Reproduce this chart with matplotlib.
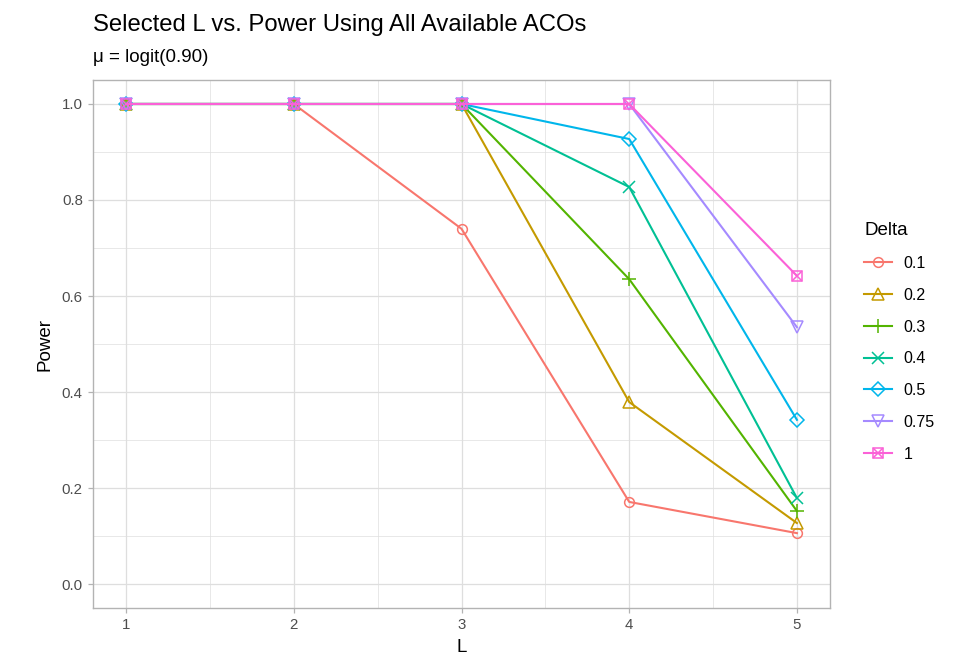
import matplotlib
matplotlib.use("Agg")
import matplotlib.pyplot as plt
from matplotlib.lines import Line2D
from matplotlib.legend_handler import HandlerTuple

plt.rcParams['font.family'] = ['Liberation Sans', 'DejaVu Sans']

L = [1, 2, 3, 4, 5]
deltas = ["0.1", "0.2", "0.3", "0.4", "0.5", "0.75", "1"]
power = {
    "0.1":  [1.0, 1.0, 0.740, 0.171, 0.106],
    "0.2":  [1.0, 1.0, 1.0, 0.379, 0.127],
    "0.3":  [1.0, 1.0, 1.0, 0.635, 0.152],
    "0.4":  [1.0, 1.0, 1.0, 0.827, 0.179],
    "0.5":  [1.0, 1.0, 1.0, 0.927, 0.342],
    "0.75": [1.0, 1.0, 1.0, 1.0, 0.535],
    "1":    [1.0, 1.0, 1.0, 1.0, 0.642],
}
colors = ["#F8766D", "#C49A00", "#53B400", "#00C094", "#00B6EB", "#A58AFF", "#FB61D7"]
markers = ["o", "^", "+", "x", "D", "v", "s"]
msizes = [7, 8, 10, 8, 7, 8, 7]

fig = plt.figure(figsize=(9.64, 6.54), dpi=100)
ax = fig.add_axes([0.096, 0.0703, 0.7655, 0.8074])

for sp in ax.spines.values():
    sp.set_color("#B3B3B3")
    sp.set_linewidth(1.0)

ax.set_xlim(0.8, 5.2)
ax.set_ylim(-0.05, 1.05)
ax.set_xticks(L)
ax.set_yticks([0.0, 0.2, 0.4, 0.6, 0.8, 1.0])
ax.set_yticklabels(["0.0", "0.2", "0.4", "0.6", "0.8", "1.0"])
ax.set_xticks([1.5, 2.5, 3.5, 4.5], minor=True)
ax.set_yticks([0.1, 0.3, 0.5, 0.7, 0.9], minor=True)
ax.grid(which="major", color="#DEDEDE", linewidth=0.9)
ax.grid(which="minor", color="#DEDEDE", linewidth=0.5)
ax.set_axisbelow(True)
ax.tick_params(which="major", colors="#B3B3B3", length=3.5, width=0.9, labelcolor="#4D4D4D", labelsize=10.8)
ax.tick_params(which="minor", length=0)

handles = []
for d, c, m, ms in zip(deltas, colors, markers, msizes):
    y = power[d]
    ax.plot(L, y, color=c, linewidth=1.5, marker=m, markersize=ms,
            markerfacecolor="none", markeredgecolor=c, markeredgewidth=1.1)
    h = Line2D([0], [0], color=c, linewidth=1.5, marker=m, markersize=ms,
               markerfacecolor="none", markeredgecolor=c, markeredgewidth=1.1)
    if d == "1":
        ax.plot(L, y, linestyle="none", marker="x", markersize=ms, color=c, markeredgewidth=1.1)
        hx = Line2D([0], [0], linestyle="none", marker="x", markersize=ms, color=c, markeredgewidth=1.1)
        h = (h, hx)
    handles.append(h)

ax.set_xlabel("L", fontsize=13.5, color="black", labelpad=5)
ax.set_ylabel("Power", fontsize=13.5, color="black", labelpad=6)

fig.text(0.096, 0.953, "Selected L vs. Power Using All Available ACOs", fontsize=17.2, color="black", va="baseline")
fig.text(0.096, 0.905, "μ = logit(0.90)", fontsize=13.5, color="black", va="baseline")

leg = fig.legend(handles=handles, labels=deltas, title="Delta", loc="upper left",
                 bbox_to_anchor=(0.890, 0.670), frameon=False, fontsize=11.5,
                 title_fontsize=13.5, handlelength=1.7, labelspacing=1.05,
                 handletextpad=0.75, borderaxespad=0,
                 handler_map={tuple: HandlerTuple(ndivide=1, pad=0)})
leg._legend_box.align = "left"

fig.savefig("out.png", dpi=100)
